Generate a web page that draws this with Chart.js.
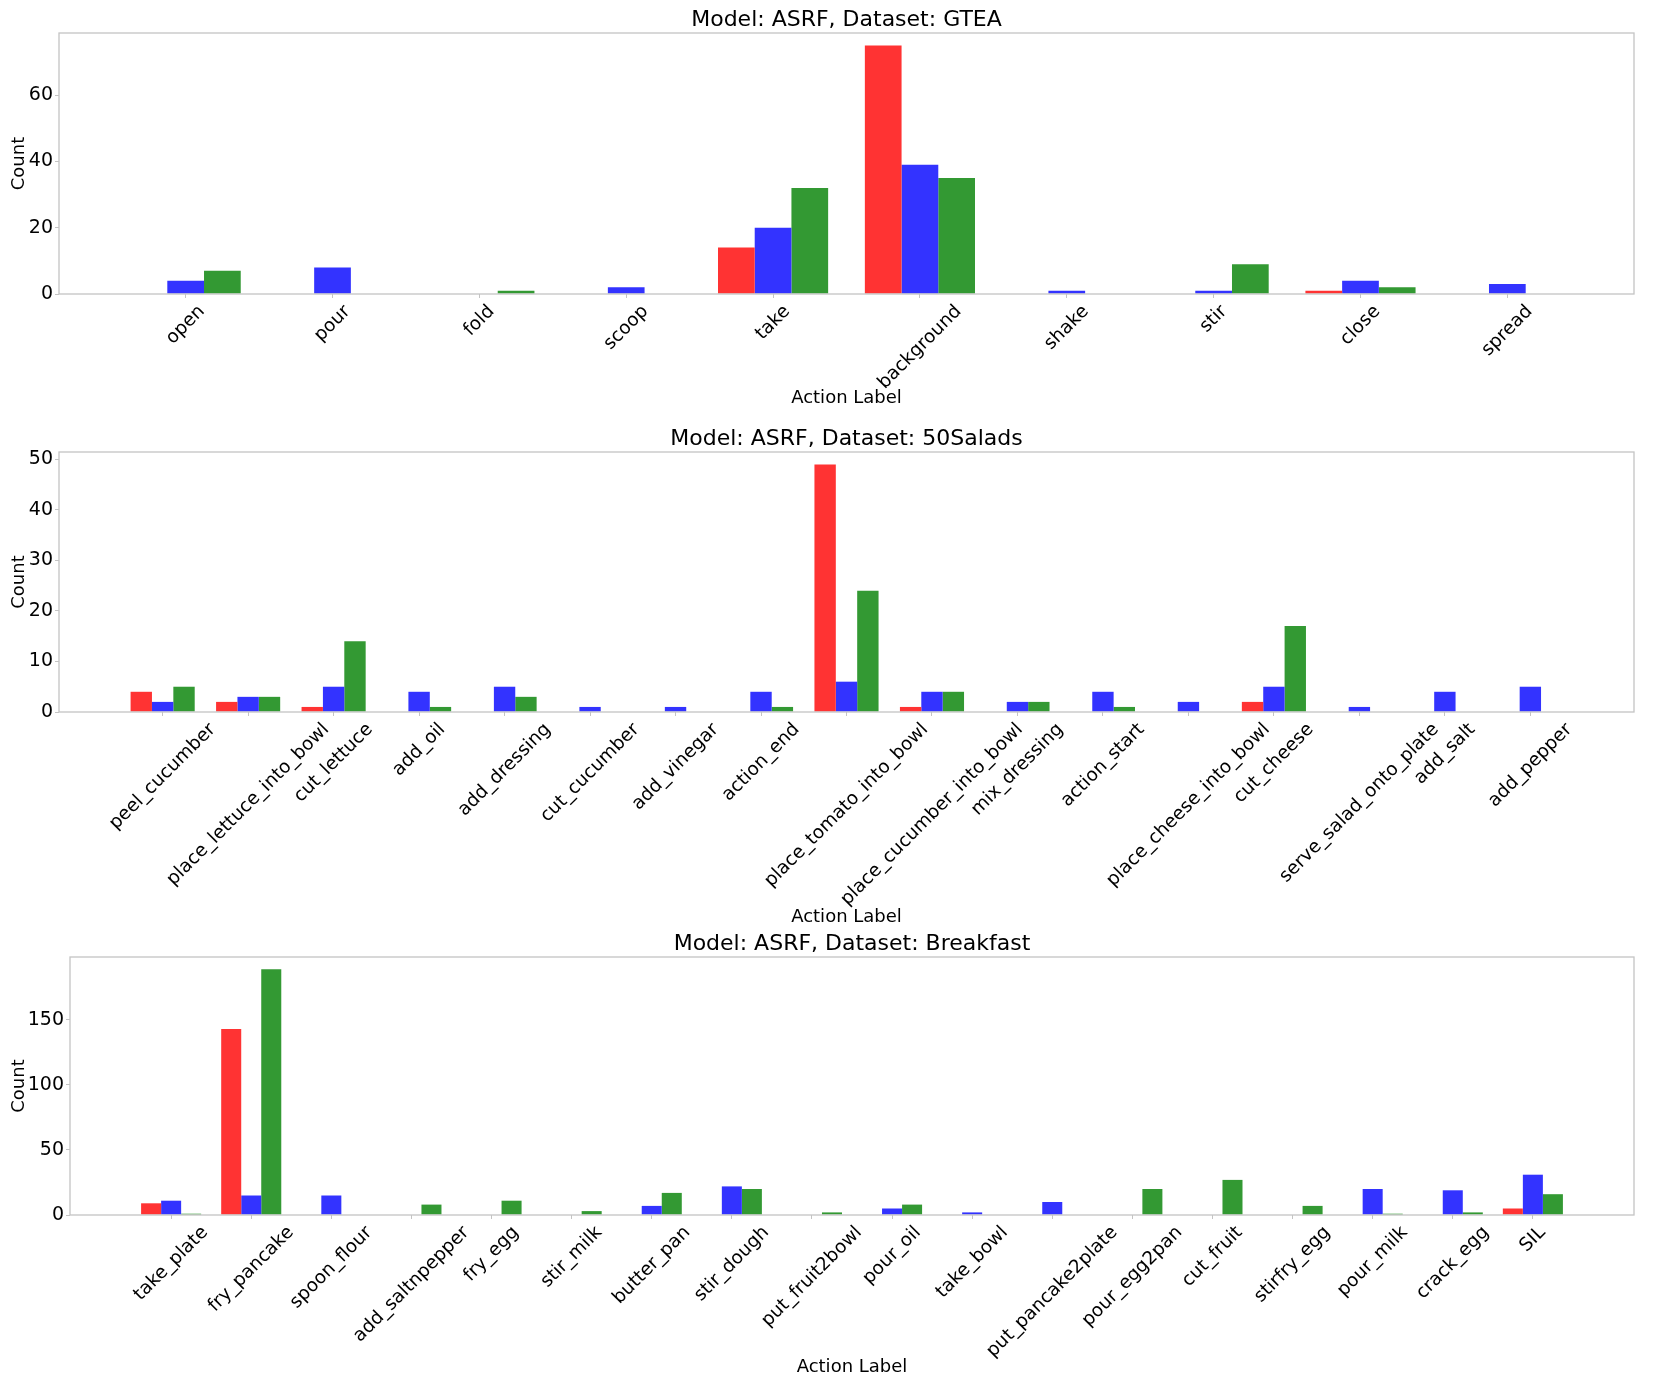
<!DOCTYPE html>
<html>
<head>
<meta charset="utf-8">
<title>ASRF action label counts</title>
<script src="https://cdn.jsdelivr.net/npm/chart.js@4.4.1/dist/chart.umd.min.js"></script>
<style>
    body { margin: 0; background: #fff; width: 1653px; height: 1377px; position: relative; overflow: hidden; }
    .panel { position: absolute; left: 0; width: 1653px; }
</style>
</head>
<body>
<div class="panel" style="top:0;height:425px"><canvas id="gteaChart"></canvas></div>
<div class="panel" style="top:420px;height:510px"><canvas id="saladsChart"></canvas></div>
<div class="panel" style="top:925px;height:452px"><canvas id="breakfastChart"></canvas></div>
<script>
// Data
const seriesNames = ['Series 1', 'Series 2', 'Series 3'];
const seriesColors = ['#ff3333', '#3333ff', '#339933'];

// GTEA
const gteaLabels = ['open', 'pour', 'fold', 'scoop', 'take', 'background', 'shake', 'stir', 'close', 'spread'];
const gteaRed   = [0, 0, 0, 0, 14, 75, 0, 0, 1, 0];
const gteaBlue  = [4, 8, 0, 2, 20, 39, 1, 1, 4, 3];
const gteaGreen = [7, 0, 1, 0, 32, 35, 0, 9, 2, 0];
const gteaTicks = [0, 20, 40, 60];

// 50Salads
const saladsLabels = ['peel_cucumber', 'place_lettuce_into_bowl', 'cut_lettuce', 'add_oil', 'add_dressing',
    'cut_cucumber', 'add_vinegar', 'action_end', 'place_tomato_into_bowl', 'place_cucumber_into_bowl',
    'mix_dressing', 'action_start', 'place_cheese_into_bowl', 'cut_cheese', 'serve_salad_onto_plate',
    'add_salt', 'add_pepper'];
const saladsRed   = [4, 2, 1, 0, 0, 0, 0, 0, 49, 1, 0, 0, 0, 2, 0, 0, 0];
const saladsBlue  = [2, 3, 5, 4, 5, 1, 1, 4, 6, 4, 2, 4, 2, 5, 1, 4, 5];
const saladsGreen = [5, 3, 14, 1, 3, 0, 0, 1, 24, 4, 2, 1, 0, 17, 0, 0, 0];
const saladsTicks = [0, 10, 20, 30, 40, 50];

// Breakfast
const breakfastLabels = ['take_plate', 'fry_pancake', 'spoon_flour', 'add_saltnpepper', 'fry_egg', 'stir_milk',
    'butter_pan', 'stir_dough', 'put_fruit2bowl', 'pour_oil', 'take_bowl', 'put_pancake2plate',
    'pour_egg2pan', 'cut_fruit', 'stirfry_egg', 'pour_milk', 'crack_egg', 'SIL'];
const breakfastRed   = [9, 143, 0, 0, 0, 0, 0, 0, 0, 0, 0, 0, 0, 0, 0, 0, 0, 5];
const breakfastBlue  = [11, 15, 15, 0, 0, 0, 7, 22, 0, 5, 2, 10, 0, 0, 0, 20, 19, 31];
const breakfastGreen = [1, 189, 0, 8, 11, 3, 17, 20, 2, 8, 0, 0, 20, 27, 7, 1, 2, 16];
const breakfastTicks = [0, 50, 100, 150];

const FONT = '"DejaVu Sans", "Liberation Sans", sans-serif';
const X_TICK_SIZE = 18.5;
const FRAME_COLOR = '#c4c4c4';

/**
 * Draws the title, rotated category labels (centred like matplotlib), axis labels and frame
 */
function panelTextPlugin(panel) {
    return {
        id: 'panelText',
        afterDatasetsDraw(chart) {
            const { ctx, chartArea: a, scales } = chart;
            ctx.save();
            ctx.strokeStyle = FRAME_COLOR;
            ctx.lineWidth = 1.3;
            ctx.strokeRect(a.left, a.top, a.right - a.left, a.bottom - a.top);

            ctx.fillStyle = '#000';
            ctx.textAlign = 'center';
            ctx.textBaseline = 'middle';

            ctx.font = '22px ' + FONT;
            ctx.fillText(panel.title, (a.left + a.right) / 2, a.top - 13);

            ctx.font = X_TICK_SIZE + 'px ' + FONT;
            const h = X_TICK_SIZE * 1.164;
            panel.labels.forEach((lab, i) => {
                const x = scales.x.getPixelForValue(i);
                const w = ctx.measureText(lab).width;
                const half = (w + h) * Math.SQRT1_2 / 2;
                ctx.save();
                ctx.translate(x, a.bottom + 7 + half);
                ctx.rotate(-Math.PI / 4);
                ctx.fillText(lab, 0, 0);
                ctx.restore();
            });

            ctx.font = '18px ' + FONT;
            ctx.fillText('Action Label', (a.left + a.right) / 2, a.bottom + panel.xlabelOffset);

            ctx.save();
            ctx.translate(19, (a.top + a.bottom) / 2);
            ctx.rotate(-Math.PI / 2);
            ctx.fillText('Count', 0, 0);
            ctx.restore();

            ctx.restore();
        }
    };
}

function createPanel(panel) {
    const n = panel.labels.length;
    const series = [panel.red, panel.blue, panel.green];
    const yMax = Math.max(...series.flat()) * 1.05;
    // matplotlib style x limits: bar extent plus 5% margin each side
    const span = (n - 1) + 0.75;
    const xMin = -0.375 - span * 0.05;
    const xMax = (n - 1) + 0.375 + span * 0.05;

    new Chart(document.getElementById(panel.canvas), {
        type: 'bar',
        data: {
            datasets: series.map((vals, k) => ({
                label: seriesNames[k],
                data: vals.map((v, i) => ({ x: i, y: v })),
                backgroundColor: seriesColors[k],
                borderWidth: 0,
                categoryPercentage: 0.75,
                barPercentage: 1.0
            }))
        },
        options: {
            responsive: true,
            maintainAspectRatio: false,
            animation: false,
            layout: { padding: { top: panel.padTop, right: 19, left: 0, bottom: 0 } },
            plugins: {
                legend: { display: false },
                tooltip: { enabled: false }
            },
            scales: {
                x: {
                    type: 'linear',
                    min: xMin,
                    max: xMax,
                    offset: false,
                    border: { display: false },
                    grid: { drawOnChartArea: false, offset: false, tickLength: 4, color: FRAME_COLOR },
                    afterBuildTicks: s => { s.ticks = panel.labels.map((_, i) => ({ value: i })); },
                    ticks: { display: false },
                    afterFit: s => { s.height = panel.xAxisH; }
                },
                y: {
                    min: 0,
                    max: yMax,
                    border: { display: false },
                    grid: { drawOnChartArea: false, tickLength: 4, color: FRAME_COLOR },
                    afterBuildTicks: s => { s.ticks = panel.yTicks.map(v => ({ value: v })); },
                    ticks: {
                        color: '#000',
                        padding: 2,
                        font: { family: FONT, size: 19 }
                    },
                    afterFit: s => { s.width = panel.yAxisW; }
                }
            }
        },
        plugins: [panelTextPlugin(panel)]
    });
}

createPanel({
    canvas: 'gteaChart', title: 'Model: ASRF, Dataset: GTEA',
    labels: gteaLabels, red: gteaRed, blue: gteaBlue, green: gteaGreen, yTicks: gteaTicks,
    padTop: 33, xAxisH: 131, yAxisW: 59, xlabelOffset: 104
});
createPanel({
    canvas: 'saladsChart', title: 'Model: ASRF, Dataset: 50Salads',
    labels: saladsLabels, red: saladsRed, blue: saladsBlue, green: saladsGreen, yTicks: saladsTicks,
    padTop: 32, xAxisH: 218, yAxisW: 59, xlabelOffset: 205
});
createPanel({
    canvas: 'breakfastChart', title: 'Model: ASRF, Dataset: Breakfast',
    labels: breakfastLabels, red: breakfastRed, blue: breakfastBlue, green: breakfastGreen, yTicks: breakfastTicks,
    padTop: 32, xAxisH: 162, yAxisW: 70, xlabelOffset: 152
});
</script>
</body>
</html>
